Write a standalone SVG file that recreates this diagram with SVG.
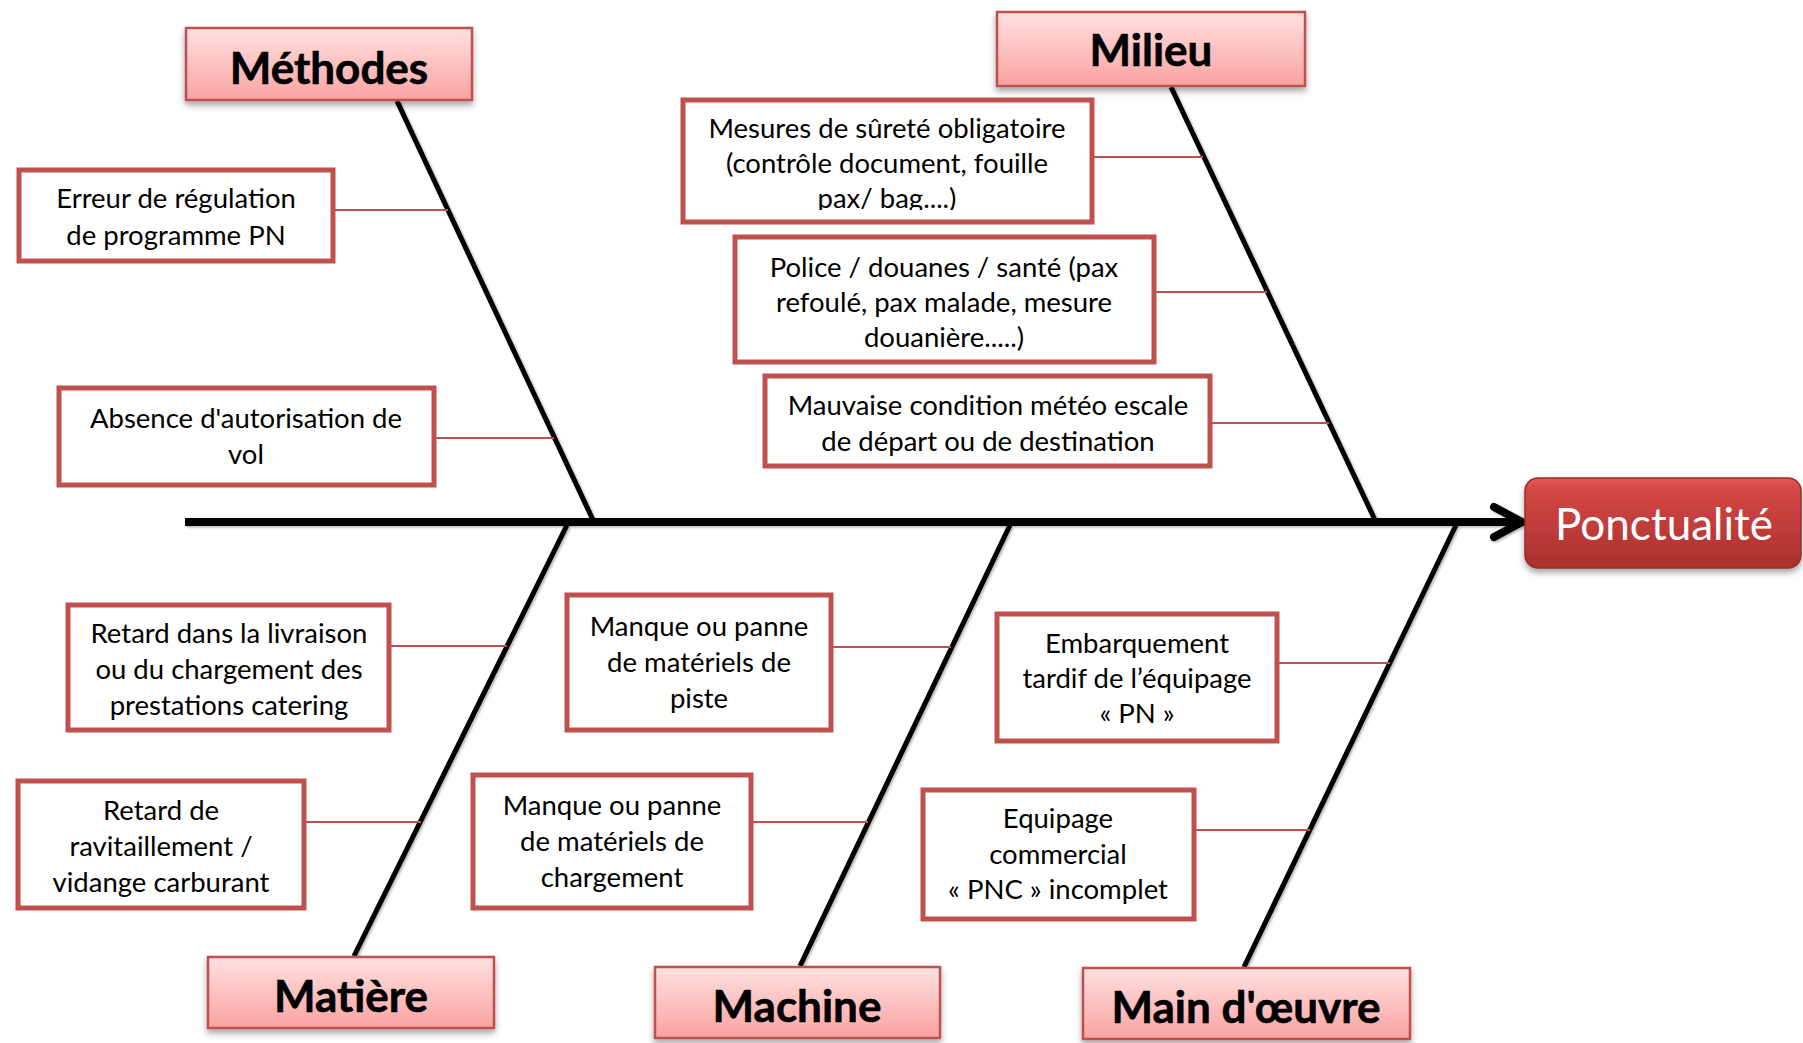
<svg xmlns="http://www.w3.org/2000/svg" width="1803" height="1043" viewBox="0 0 1803 1043">
  <defs>
    <linearGradient id="catFill" x1="0" y1="0" x2="0" y2="1">
      <stop offset="0" stop-color="#ffe1e1"/>
      <stop offset="1" stop-color="#f9a3a1"/>
    </linearGradient>
    <linearGradient id="effectFill" x1="0" y1="0" x2="0" y2="1">
      <stop offset="0" stop-color="#e25a57"/>
      <stop offset="0.12" stop-color="#d44846"/>
      <stop offset="1" stop-color="#a92f2d"/>
    </linearGradient>
    <filter id="boxShadow" x="-10%" y="-20%" width="120%" height="150%">
      <feDropShadow dx="0" dy="4" stdDeviation="3" flood-color="#000" flood-opacity="0.35"/>
    </filter>
    <filter id="lineShadow" x="-5%" y="-5%" width="110%" height="110%">
      <feDropShadow dx="1.5" dy="1.5" stdDeviation="1.2" flood-color="#000" flood-opacity="0.3"/>
    </filter>
    <clipPath id="clipMesures">
      <rect x="683" y="100" width="409" height="110"/>
    </clipPath>
    <style>
      .cause rect { fill: #ffffff; stroke: #c0504d; stroke-width: 5; }
      .cause text { font-family: Lato, "Liberation Sans", sans-serif; font-size: 27.5px; fill: #000; text-anchor: middle; }
      .cat rect { fill: url(#catFill); stroke: #c0504d; stroke-width: 2.5; filter: url(#boxShadow); }
      .cat text { font-family: Lato, "Liberation Sans", sans-serif; font-weight: bold; font-size: 44px; fill: #000; text-anchor: middle; stroke: #000; stroke-width: 0.6; }
      .bone { stroke: #000; stroke-width: 5; fill: none; }
      .spine { stroke: #000; stroke-width: 8; fill: none; }
      .link { stroke: #c0504d; stroke-width: 2; fill: none; }
    </style>
  </defs>

  <rect width="1803" height="1043" fill="#ffffff"/>

  <!-- connectors: spine, category bones and cause links -->
  <g id="connectors">
    <g filter="url(#lineShadow)">
      <line class="spine" x1="185" y1="522" x2="1518" y2="522"/>
      <polyline class="spine" points="1494,507 1522,522 1494,537" stroke-linecap="round" stroke-linejoin="round"/>
      <line class="bone" x1="397" y1="101" x2="593" y2="520"/>
      <line class="bone" x1="1171" y1="87" x2="1375" y2="520"/>
      <line class="bone" x1="567" y1="525" x2="354" y2="956"/>
      <line class="bone" x1="1010" y1="525" x2="800" y2="966"/>
      <line class="bone" x1="1456" y1="525" x2="1244" y2="967"/>
    </g>
    <line class="link" x1="335" y1="210" x2="448" y2="210"/>
    <line class="link" x1="436" y1="438" x2="554" y2="438"/>
    <line class="link" x1="1094" y1="157" x2="1203" y2="157"/>
    <line class="link" x1="1156" y1="292" x2="1267" y2="292"/>
    <line class="link" x1="1212" y1="423" x2="1329" y2="423"/>
    <line class="link" x1="391" y1="646" x2="507" y2="646"/>
    <line class="link" x1="306" y1="822" x2="421" y2="822"/>
    <line class="link" x1="833" y1="647" x2="951" y2="647"/>
    <line class="link" x1="753" y1="822" x2="868" y2="822"/>
    <line class="link" x1="1279" y1="663" x2="1390" y2="663"/>
    <line class="link" x1="1196" y1="830" x2="1310" y2="830"/>
  </g>

  <!-- category heads -->
  <g id="cat-methodes" class="cat">
    <rect x="186" y="28" width="286" height="72"/>
    <text x="329" y="84">Méthodes</text>
  </g>
  <g id="cat-milieu" class="cat">
    <rect x="997" y="12" width="308" height="74"/>
    <text x="1151" y="66">Milieu</text>
  </g>
  <g id="cat-matiere" class="cat">
    <rect x="208" y="957" width="286" height="71"/>
    <text x="351" y="1012">Matière</text>
  </g>
  <g id="cat-machine" class="cat">
    <rect x="655" y="967" width="285" height="71"/>
    <text x="797" y="1022">Machine</text>
  </g>
  <g id="cat-main-oeuvre" class="cat">
    <rect x="1083" y="968" width="327" height="71"/>
    <text x="1246" y="1023">Main d'œuvre</text>
  </g>

  <!-- effect -->
  <g id="effect-ponctualite">
    <rect x="1525" y="478" width="276" height="90" rx="13" ry="13" fill="url(#effectFill)" stroke="#9c2b29" stroke-width="1.5" filter="url(#boxShadow)"/>
    <text x="1664" y="540" font-family="Lato, 'Liberation Sans', sans-serif" font-size="44" fill="#ffffff" text-anchor="middle">Ponctualité</text>
  </g>

  <!-- causes: Méthodes -->
  <g id="cause-erreur-regulation" class="cause">
    <rect x="19" y="170" width="314" height="91"/>
    <text x="176" y="208">Erreur de régulation</text>
    <text x="176" y="245">de programme PN</text>
  </g>
  <g id="cause-absence-autorisation" class="cause">
    <rect x="59" y="388" width="375" height="97"/>
    <text x="246" y="428">Absence d'autorisation de</text>
    <text x="246" y="464">vol</text>
  </g>

  <!-- causes: Milieu -->
  <g id="cause-mesures-surete" class="cause">
    <rect x="683" y="100" width="409" height="122"/>
    <g clip-path="url(#clipMesures)">
      <text x="887" y="138">Mesures de sûreté obligatoire</text>
      <text x="887" y="173">(contrôle document, fouille</text>
      <text x="887" y="208">pax/ bag....)</text>
    </g>
  </g>
  <g id="cause-police-douanes" class="cause">
    <rect x="735" y="237" width="419" height="125"/>
    <text x="944" y="277">Police / douanes / santé (pax</text>
    <text x="944" y="312">refoulé, pax malade, mesure</text>
    <text x="944" y="347">douanière.....)</text>
  </g>
  <g id="cause-meteo" class="cause">
    <rect x="765" y="376" width="445" height="90"/>
    <text x="988" y="415">Mauvaise condition météo escale</text>
    <text x="988" y="451">de départ ou de destination</text>
  </g>

  <!-- causes: Matière -->
  <g id="cause-catering" class="cause">
    <rect x="68" y="605" width="321" height="125"/>
    <text x="229" y="643">Retard dans la livraison</text>
    <text x="229" y="679">ou du chargement des</text>
    <text x="229" y="715">prestations catering</text>
  </g>
  <g id="cause-carburant" class="cause">
    <rect x="18" y="781" width="286" height="127"/>
    <text x="161" y="820">Retard de</text>
    <text x="161" y="856">ravitaillement /</text>
    <text x="161" y="892">vidange carburant</text>
  </g>

  <!-- causes: Machine -->
  <g id="cause-materiel-piste" class="cause">
    <rect x="567" y="595" width="264" height="135"/>
    <text x="699" y="636">Manque ou panne</text>
    <text x="699" y="672">de matériels de</text>
    <text x="699" y="708">piste</text>
  </g>
  <g id="cause-materiel-chargement" class="cause">
    <rect x="473" y="775" width="278" height="133"/>
    <text x="612" y="815">Manque ou panne</text>
    <text x="612" y="851">de matériels de</text>
    <text x="612" y="887">chargement</text>
  </g>

  <!-- causes: Main d'œuvre -->
  <g id="cause-embarquement-pn" class="cause">
    <rect x="997" y="614" width="280" height="127"/>
    <text x="1137" y="653">Embarquement</text>
    <text x="1137" y="688">tardif de l’équipage</text>
    <text x="1137" y="723">« PN »</text>
  </g>
  <g id="cause-equipage-pnc" class="cause">
    <rect x="923" y="790" width="271" height="129"/>
    <text x="1058" y="828">Equipage</text>
    <text x="1058" y="864">commercial</text>
    <text x="1058" y="899">« PNC » incomplet</text>
  </g>
</svg>
